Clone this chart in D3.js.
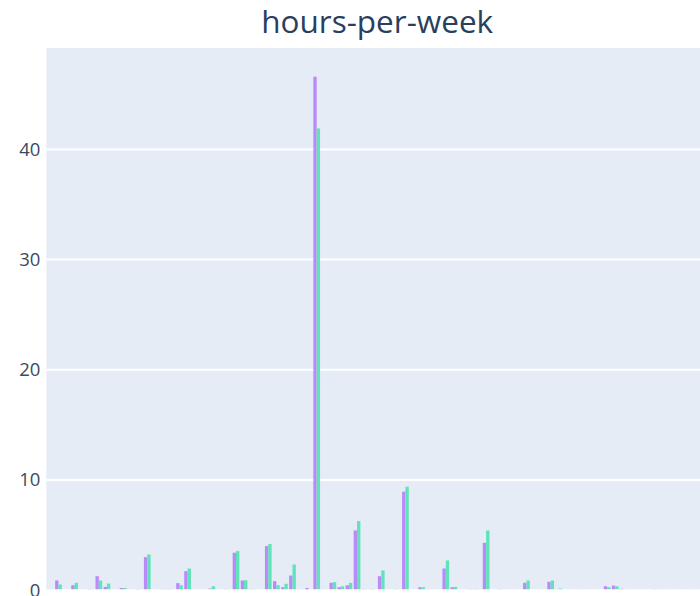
<!DOCTYPE html>
<html>
<head>
<meta charset="utf-8">
<script src="https://cdn.jsdelivr.net/npm/d3@7"></script>
<style>
  html, body { margin: 0; padding: 0; background: #fff; overflow: hidden; }
  svg { display: block; }
</style>
</head>
<body>
<svg id="chart" width="700" height="596"></svg>
<script>
// Share of records (%) per hours-per-week bin, two groups side by side.
const seriesNames = ["group A", "group B"];
const seriesColors = ["#b98af8", "#5fe3b9"];

const groupA = [
  0.05, 0.88, 0, 0.45, 0, 0.10, 1.27, 0.30, 0, 0.20,
  0, 0.10, 3.00, 0, 0.08, 0.08, 0.64, 1.73, 0, 0,
  0.15, 0, 0.10, 3.40, 0.88, 0.10, 0, 4.00, 0.82, 0.27,
  1.33, 0.06, 0.20, 46.6, 0.06, 0.67, 0.27, 0.45, 5.42, 0.10,
  0.10, 1.27, 0, 0.08, 8.94, 0, 0.27, 0.06, 0, 1.97,
  0.27, 0, 0.05, 0.10, 4.30, 0, 0.08, 0, 0, 0.67,
  0, 0, 0.76, 0.05, 0, 0, 0.06, 0, 0, 0.36,
  0.42, 0.12, 0, 0, 0, 0.06, 0.05, 0, 0, 0.03,
  0.03, 0
];
const groupB = [
  0.03, 0.52, 0, 0.67, 0, 0.08, 0.88, 0.60, 0, 0.20,
  0, 0.05, 3.24, 0, 0.10, 0.05, 0.45, 1.97, 0, 0,
  0.36, 0, 0.03, 3.55, 0.90, 0.08, 0, 4.20, 0.45, 0.58,
  2.33, 0.04, 0.06, 41.9, 0.04, 0.73, 0.36, 0.67, 6.27, 0.08,
  0.08, 1.79, 0, 0.05, 9.39, 0, 0.27, 0.04, 0, 2.70,
  0.30, 0, 0.10, 0.05, 5.42, 0, 0.04, 0, 0, 0.88,
  0, 0, 0.88, 0.15, 0, 0, 0.04, 0, 0, 0.27,
  0.36, 0.05, 0, 0, 0, 0.04, 0.06, 0, 0, 0.03,
  0.02, 0
];
const yTicks = [0, 10, 20, 30, 40];
const titleText = "hours-per-week";

const svg = d3.select("#chart");
const plot = { left: 46.4, top: 48, right: 708, bottom: 590.2 };

const bins = groupA.map((_, i) => i);

const x = d3.scaleBand()
  .domain(bins)
  .range([plot.left, plot.right])
  .paddingInner(0.17)
  .paddingOuter(0.085);

const xSub = d3.scaleBand()
  .domain(seriesNames)
  .range([0, x.bandwidth()]);

const y = d3.scaleLinear()
  .domain([0, 49.2])
  .range([plot.bottom, plot.top]);

// plot background
svg.append("rect")
  .attr("x", plot.left).attr("y", plot.top)
  .attr("width", plot.right - plot.left)
  .attr("height", plot.bottom - plot.top)
  .attr("fill", "#e5ecf6");

// y axis labels
const yAxis = d3.axisLeft(y).tickValues(yTicks).tickSize(0).tickPadding(6);
const gy = svg.append("g")
  .attr("transform", `translate(${plot.left},0)`)
  .call(yAxis);
gy.select(".domain").remove();
gy.selectAll(".tick line").remove();
gy.selectAll(".tick text")
  .attr("fill", "#3b4a60")
  .attr("font-family", "'Open Sans', sans-serif")
  .attr("font-size", 18.5);

// horizontal grid
svg.append("g")
  .selectAll("line")
  .data(yTicks.filter(t => t > 0))
  .join("line")
  .attr("x1", plot.left).attr("x2", plot.right)
  .attr("y1", d => y(d)).attr("y2", d => y(d))
  .attr("stroke", "#ffffff")
  .attr("stroke-width", 2);

// grouped bars
const series = [groupA, groupB];
const barsG = svg.append("g");
series.forEach((vals, si) => {
  barsG.append("g")
    .selectAll("rect")
    .data(vals.map((v, i) => ({ bin: bins[i], v })))
    .join("rect")
    .attr("x", d => x(d.bin) + xSub(seriesNames[si]))
    .attr("width", xSub.bandwidth())
    .attr("y", d => y(d.v))
    .attr("height", d => y(0) - y(d.v))
    .attr("fill", seriesColors[si]);
});

// zero line
svg.append("line")
  .attr("x1", plot.left).attr("x2", plot.right)
  .attr("y1", y(0)).attr("y2", y(0))
  .attr("stroke", "#ffffff")
  .attr("stroke-width", 2);

// title
svg.append("text")
  .attr("x", (plot.left + plot.right) / 2)
  .attr("y", 33)
  .attr("text-anchor", "middle")
  .attr("fill", "#2a3f5f")
  .attr("font-family", "'Open Sans', sans-serif")
  .attr("font-size", 31.5)
  .text(titleText);
</script>
</body>
</html>
